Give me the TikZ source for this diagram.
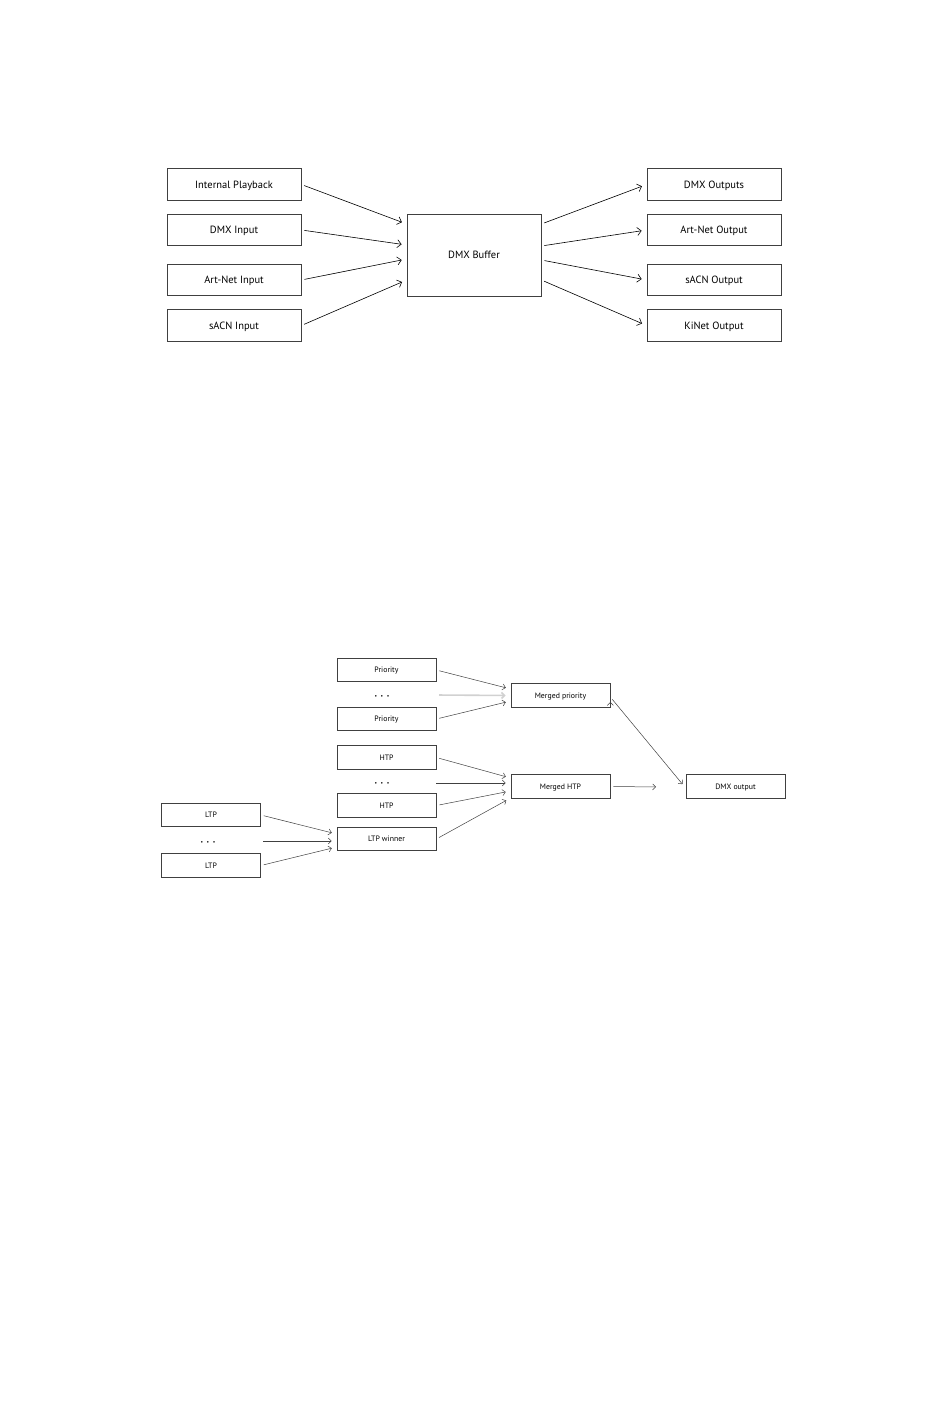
\documentclass[tikz,border=0pt]{standalone}
\usepackage{fontspec}
\setmainfont{PT Sans}
\usetikzlibrary{arrows, arrows.meta, positioning}
\definecolor{boxgray}{rgb}{0.25,0.25,0.25}
\definecolor{linegray}{rgb}{0.25,0.25,0.25}
\definecolor{dotgray}{rgb}{0.82,0.82,0.82}
\newcommand{\threedots}{·\hspace{3.5pt}·\hspace{3.5pt}·}

\begin{document}
\begin{tikzpicture}[x=1pt,y=1pt,->,>={Straight Barb[length=4pt,width=8pt]},shorten >=5pt,shorten <=3pt,
                    semithick]
  \tikzstyle{bigbox}=[draw=boxgray,thick,minimum width=134pt,minimum height=31.5pt,text depth=0pt,font=\fontsize{10.5}{12}\selectfont,text=black]
  \tikzstyle{smallbox}=[draw=boxgray,line width=0.7pt,minimum width=99pt,minimum height=23.5pt,text depth=0pt,font=\fontsize{7.8}{9}\selectfont,text=black]
  \tikzstyle{thin}=[draw=linegray,line width=0.5pt,>={Straight Barb[length=3pt,width=6pt]}]
  \tikzstyle{dots}=[font=\bfseries\fontsize{10}{10}\selectfont,text=black,inner sep=0pt]
  \useasboundingbox (0,0) rectangle (950,-1419);

  % top: sources -> buffer -> outputs
  \node[bigbox]  (intpb)    at (234,-184.5) {Internal Playback};
  \node[bigbox]  (dmxin)    at (234,-230)   {DMX Input};
  \node[bigbox]  (artin)    at (234,-280)   {Art-Net Input};
  \node[bigbox]  (sacnin)   at (234,-325.5) {sACN Input};
  \node[bigbox, minimum height=82pt] (buf) at (474,-255) {DMX Buffer};
  \node[bigbox]  (dmxout)   at (714,-184.5) {DMX Outputs};
  \node[bigbox]  (artout)   at (714,-230)   {Art-Net Output};
  \node[bigbox]  (sacnout)  at (714,-280)   {sACN Output};
  \node[bigbox]  (kinout)   at (714,-325.5) {KiNet Output};

  \path (intpb.east)            edge ([yshift=31]buf.west)
        (dmxin.east)            edge ([yshift=10]buf.west)
        (artin.east)            edge ([yshift=-4]buf.west)
        (sacnin.east)           edge ([yshift=-25]buf.west)
        ([yshift=31]buf.east)   edge (dmxout.west)
        ([yshift=9]buf.east)    edge (artout.west)
        ([yshift=-5]buf.east)   edge (sacnout.west)
        ([yshift=-25]buf.east)  edge (kinout.west);

  % bottom: merging
  \node[smallbox] (prio1)   at (386.5,-670)   {Priority};
  \node[dots]     (dotsp)   at (382,-698)     {\threedots};
  \node[smallbox] (prio2)   at (386.5,-719)   {Priority};
  \node[smallbox] (htp1)    at (386.5,-757.5) {HTP};
  \node[dots]     (dotsh)   at (382,-785)     {\threedots};
  \node[smallbox] (htp2)    at (386.5,-805.5) {HTP};
  \node[smallbox] (ltpwin)  at (386.5,-839)   {LTP winner};
  \node[smallbox] (ltp1)    at (211,-815)     {LTP};
  \node[dots]     (dotsl)   at (208,-844)     {\threedots};
  \node[smallbox] (ltp2)    at (211,-865.5)   {LTP};
  \node[smallbox] (mprio)   at (560.5,-695.5) {Merged priority};
  \node[smallbox] (mhtp)    at (560.5,-786.5) {Merged HTP};
  \node[smallbox] (dmxfin)  at (735.5,-786.5) {DMX output};
  \coordinate     (dotspend) at (436,-695);
  \coordinate     (dotshend) at (433,-783);
  \coordinate     (dotslend) at (260,-841);
  \coordinate     (mhtpend)  at (661,-787);

  \path[thin] (prio1.east)  edge ([yshift=6.5]mprio.west)
              (prio2.east)  edge ([yshift=-5.5]mprio.west)
              (htp1.east)   edge ([yshift=8.5]mhtp.west)
              (dotshend)    edge ([yshift=3.5]mhtp.west)
              (htp2.east)   edge ([yshift=-4.5]mhtp.west)
              (ltpwin.east) edge ([yshift=-11.5]mhtp.west)
              (ltp1.east)   edge ([yshift=5]ltpwin.west)
              (dotslend)    edge ([yshift=-2]ltpwin.west)
              (ltp2.east)   edge ([yshift=-8]ltpwin.west)
              (mhtp.east)   edge (mhtpend)
              ([yshift=-1.5]mprio.east) edge ([yshift=-1.5]dmxfin.west);
  \draw[thin,draw=dotgray,line width=1.6pt] (dotspend) -- (mprio.west);
\end{tikzpicture}
\end{document}
